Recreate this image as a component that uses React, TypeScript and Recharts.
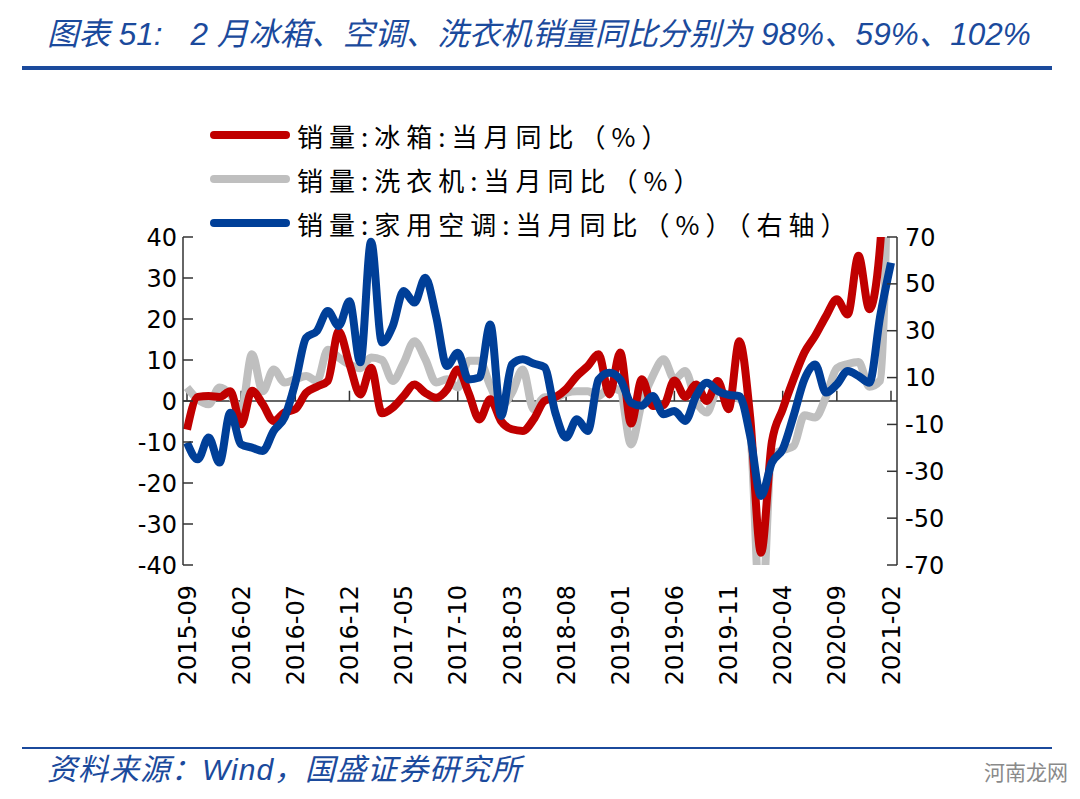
import React from 'react';
import { LineChart, Line, XAxis, YAxis, ReferenceLine } from 'recharts';

// 2015-09 .. 2021-02, monthly
const months = [
  '2015-09', '2015-10', '2015-11', '2015-12',
  '2016-01', '2016-02', '2016-03', '2016-04', '2016-05', '2016-06', '2016-07', '2016-08', '2016-09', '2016-10', '2016-11', '2016-12',
  '2017-01', '2017-02', '2017-03', '2017-04', '2017-05', '2017-06', '2017-07', '2017-08', '2017-09', '2017-10', '2017-11', '2017-12',
  '2018-01', '2018-02', '2018-03', '2018-04', '2018-05', '2018-06', '2018-07', '2018-08', '2018-09', '2018-10', '2018-11', '2018-12',
  '2019-01', '2019-02', '2019-03', '2019-04', '2019-05', '2019-06', '2019-07', '2019-08', '2019-09', '2019-10', '2019-11', '2019-12',
  '2020-01', '2020-02', '2020-03', '2020-04', '2020-05', '2020-06', '2020-07', '2020-08', '2020-09', '2020-10', '2020-11', '2020-12',
  '2021-01', '2021-02',
];

// 冰箱 (left axis)
const fridge = [
  -7, 1, 1.2, 1, 2.4, -5.7, 2.5, -0.8, -4.9, -2.8, -2, 2, 3.5, 4.9, 17, 9,
  1.6, 8.1, -3, -1.6, 1.2, 4, 2, 0.8, 2.8, 7.7, 2, -4.5, 0.4, -4.9, -6.9, -7.3,
  -4.5, 0, 0.9, 2.9, 6.1, 8.5, 11.4, 1.6, 11.8, -5.5, 5.3, -1.2, -1, 5, 1, 4,
  0, 4.9, -2, 14.6, -4, -37, -10, -2, 5.3, 11.8, 15.9, 20.7, 24.8, 21.1, 35.4, 22.4,
  38, 98,
];

// 洗衣机 (left axis)
const washer = [
  3.3, 0.4, -0.8, 3.3, 1.6, -2.4, 11.4, 2.4, 7.7, 4.5, 5.3, 6.1, 4.9, 12.5, 10.6, 8.9,
  8, 10.6, 10, 4.9, 9.3, 14.6, 10.2, 4.5, 5.3, 3.3, 9.8, 9.8, 3.7, -1.2, 2, 7.7,
  -2, 0.9, 0.9, 2, 2.4, 2.4, 1.2, 3.3, 2.5, -10.6, -0.3, 6.1, 10.2, 5.3, 7.3, 0,
  -2.8, 2.8, 1.2, 0.5, -7.7, -55, -13, -12, -11, -3.5, -4, 1, 8, 9, 9.5, 3.5,
  5, 102,
];

// 家用空调 (right axis)
const aircon = [
  -17.8, -24.9, -15.6, -26.3, -5, -18.5, -19.9, -21.3, -12.8, -7.1, 7.8, 27, 29.9, 38.4, 32, 42.6,
  16.5, 68, 25, 32, 46.9, 42, 52.6, 36.2, 14.9, 20.6, 9.2, 10, 32.7, -6.4, 15.6, 17.8,
  16, 14.5, -4.9, -15.6, -7.8, -12.8, 9.2, 12.1, 9.2, -0.7, -2, 2.1, -5.7, -4.3, -8.5, 2.1,
  7.8, 4.3, 2.6, 2.1, -14.9, -40.5, -26.3, -20.6, -6.4, 9.2, 15.6, 3.6, 7.1, 12.8, 10.7, 7.8,
  36.2, 59,
];

const leftTicks = [-40, -30, -20, -10, 0, 10, 20, 30, 40];
const rightTicks = [-70, -50, -30, -10, 10, 30, 50, 70];

const legendItems = [
  { label: '销量:冰箱:当月同比（%）', color: '#C00000' },
  { label: '销量:洗衣机:当月同比（%）', color: '#BFBFBF' },
  { label: '销量:家用空调:当月同比（%）（右轴）', color: '#003F98' },
];

const rows = months.map((m, i) => ({ month: m, fridge: fridge[i], washer: washer[i], aircon: aircon[i] }));
const markedMonths = months.filter((_, i) => i % 5 === 0);

const W = 1080;
const H = 799;
const PLOT_LEFT = 183;
const PLOT_RIGHT = 897;
const PLOT_TOP = 237;
const PLOT_BOTTOM = 565;
const AXIS_W = 60;
const XAXIS_H = 140;

const NUM_FONT = '"DejaVu Sans", Verdana, sans-serif';
const CJK_FONT = '"Noto Sans CJK SC", "Noto Sans", sans-serif';
const TITLE_FONT = '"Liberation Sans", "Noto Sans CJK SC", sans-serif';
const TITLE_BLUE = '#1B4A9C';

function LeftTick(props: any) {
  const { x, y, payload } = props;
  return (
    <g>
      <line x1={x + 6} x2={x + 16} y1={y} y2={y} stroke="#333" strokeWidth={1.5} />
      <text x={x} y={y} dy="0.36em" textAnchor="end" fontSize={24} fontFamily={NUM_FONT} fill="#000">
        {payload.value}
      </text>
    </g>
  );
}

function RightTick(props: any) {
  const { x, y, payload } = props;
  return (
    <g>
      <line x1={x - 8} x2={x - 18} y1={y} y2={y} stroke="#333" strokeWidth={1.5} />
      <text x={x} y={y} dy="0.36em" textAnchor="start" fontSize={24} fontFamily={NUM_FONT} fill="#000">
        {payload.value}
      </text>
    </g>
  );
}

function MonthTick(props: any) {
  const { x, y, payload } = props;
  return (
    <text
      x={x}
      y={y}
      dy="0.36em"
      textAnchor="end"
      transform={`rotate(-90, ${x}, ${y})`}
      fontSize={24}
      fontFamily={NUM_FONT}
      fill="#000"
    >
      {payload.value}
    </text>
  );
}

export default function App() {
  return (
    <div style={{ position: 'absolute', left: 0, top: 0, width: W, height: H, background: '#fff', overflow: 'hidden' }}>
      <div
        style={{
          position: 'absolute',
          left: 47,
          top: 12,
          fontSize: 31.5,
          fontStyle: 'italic',
          color: TITLE_BLUE,
          fontFamily: TITLE_FONT,
          whiteSpace: 'nowrap',
          lineHeight: '44px',
        }}
      >
        图表 51:<span style={{ display: 'inline-block', width: 28 }} />2 月冰箱、空调、洗衣机销量同比分别为 98%、59%、102%
      </div>
      <div style={{ position: 'absolute', left: 22, top: 66, width: 1030, height: 4, background: TITLE_BLUE }} />

      <div style={{ position: 'absolute', left: 210, top: 113, fontFamily: CJK_FONT, fontSize: 26, color: '#000' }}>
        {legendItems.map((item) => (
          <div key={item.label} style={{ display: 'flex', alignItems: 'center', height: 44, whiteSpace: 'nowrap' }}>
            <span style={{ display: 'inline-block', width: 80, height: 8, borderRadius: 4, background: item.color }} />
            <span style={{ marginLeft: 7, letterSpacing: 6 }}>{item.label}</span>
          </div>
        ))}
      </div>

      <div style={{ position: 'absolute', left: 0, top: 0 }}>
        <LineChart
          width={W}
          height={H}
          data={rows}
          margin={{
            top: PLOT_TOP,
            left: PLOT_LEFT - AXIS_W,
            right: W - PLOT_RIGHT - AXIS_W,
            bottom: H - PLOT_BOTTOM - XAXIS_H,
          }}
        >
          <XAxis
            dataKey="month"
            interval={4}
            height={XAXIS_H}
            axisLine={false}
            tickLine={false}
            tickSize={0}
            tickMargin={20}
            padding={{ left: 4, right: 6 }}
            tick={<MonthTick />}
          />
          <YAxis
            yAxisId="left"
            domain={[-40, 40]}
            ticks={leftTicks}
            allowDataOverflow
            width={AXIS_W}
            axisLine={{ stroke: '#333', strokeWidth: 1.5 }}
            tickLine={false}
            tickSize={0}
            tickMargin={6}
            tick={<LeftTick />}
          />
          <YAxis
            yAxisId="right"
            orientation="right"
            domain={[-70, 70]}
            ticks={rightTicks}
            allowDataOverflow
            width={AXIS_W}
            axisLine={{ stroke: '#333', strokeWidth: 1.5 }}
            tickLine={false}
            tickSize={0}
            tickMargin={8}
            tick={<RightTick />}
          />
          <ReferenceLine yAxisId="left" y={0} stroke="#333" strokeWidth={1.5} />
          {markedMonths.map((m) => (
            <ReferenceLine
              key={m}
              yAxisId="left"
              segment={[{ x: m, y: 0 }, { x: m, y: 2.5 }]}
              stroke="#333"
              strokeWidth={1.5}
            />
          ))}
          <Line
            yAxisId="left"
            dataKey="washer"
            type="monotone"
            stroke="#BFBFBF"
            strokeWidth={8}
            strokeLinejoin="round"
            dot={false}
            activeDot={false}
            isAnimationActive={false}
          />
          <Line
            yAxisId="left"
            dataKey="fridge"
            type="monotone"
            stroke="#C00000"
            strokeWidth={8}
            strokeLinejoin="round"
            dot={false}
            activeDot={false}
            isAnimationActive={false}
          />
          <Line
            yAxisId="right"
            dataKey="aircon"
            type="monotone"
            stroke="#003F98"
            strokeWidth={8}
            strokeLinejoin="round"
            dot={false}
            activeDot={false}
            isAnimationActive={false}
          />
        </LineChart>
      </div>

      <div style={{ position: 'absolute', left: 22, top: 747, width: 1030, height: 2, background: TITLE_BLUE }} />
      <div
        style={{
          position: 'absolute',
          left: 47,
          top: 751,
          fontSize: 30,
          fontStyle: 'italic',
          color: TITLE_BLUE,
          fontFamily: TITLE_FONT,
          whiteSpace: 'nowrap',
          lineHeight: '38px',
          letterSpacing: 1,
        }}
      >
        资料来源：Wind，国盛证券研究所
      </div>
      <div
        style={{
          position: 'absolute',
          left: 984,
          top: 756,
          fontSize: 21,
          color: '#8a8a8a',
          fontFamily: CJK_FONT,
          whiteSpace: 'nowrap',
        }}
      >
        河南龙网
      </div>
    </div>
  );
}
